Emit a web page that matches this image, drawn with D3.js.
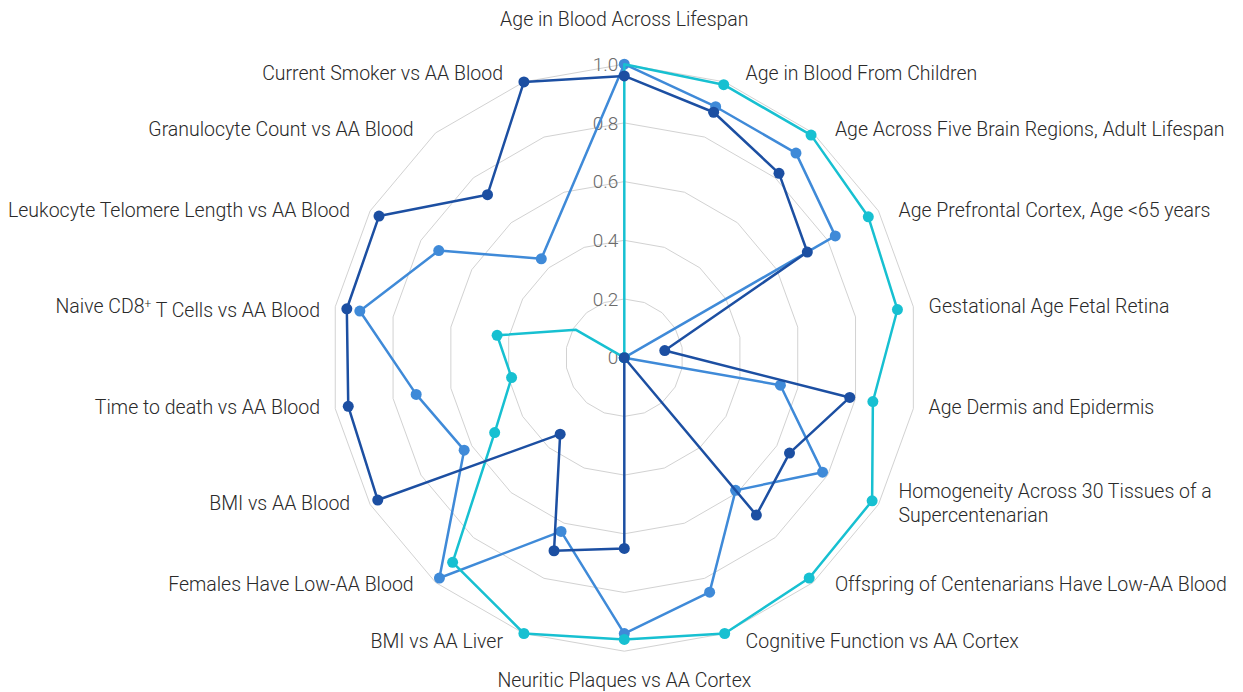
<!DOCTYPE html>
<html lang="en">
<head>
    <meta charset="UTF-8">
    <title>Radar chart</title>
    <style>
        body { margin: 0; background: #fff; }
        svg text { font-family: "Roboto Light", Roboto, "Noto Sans", sans-serif; font-weight: 300; }
    </style>
    <script src="https://cdn.jsdelivr.net/npm/d3@7"></script>
</head>
<body>
    <svg id="chart" width="1243" height="692"></svg>

    <script>
        // axis labels, clockwise from the top
        const categories = [
            "Age in Blood Across Lifespan",
            "Age in Blood From Children",
            "Age Across Five Brain Regions, Adult Lifespan",
            "Age Prefrontal Cortex, Age <65 years",
            "Gestational Age Fetal Retina",
            "Age Dermis and Epidermis",
            "Homogeneity Across 30 Tissues of a|Supercentenarian",
            "Offspring of Centenarians Have Low-AA Blood",
            "Cognitive Function vs AA Cortex",
            "Neuritic Plaques vs AA Cortex",
            "BMI vs AA Liver",
            "Females Have Low-AA Blood",
            "BMI vs AA Blood",
            "Time to death vs AA Blood",
            "Naive CD8^+ T Cells vs AA Blood",
            "Leukocyte Telomere Length vs AA Blood",
            "Granulocyte Count vs AA Blood",
            "Current Smoker vs AA Blood"
        ];

        // values (null = no point)
        const seriesDark   = [0.96, 0.89, 0.82, 0.72, 0.14, 0.78, 0.65, 0.70, 0, 0.65, 0.70, 0.34, 0.97, 0.955, 0.96, 0.965, 0.725, 1.0];
        const seriesMedium = [1.0, 0.91, 0.91, 0.83, 0, 0.54, 0.78, 0.59, 0.85, 0.94, 0.63, 0.98, 0.63, 0.72, 0.915, 0.73, 0.44, null];
        const seriesCyan   = [1.0, 0.99, 0.99, 0.96, 0.945, 0.86, 0.975, 0.98, 1.0, 0.96, 1.0, 0.91, 0.51, 0.39, 0.44, 0.19, 0, 0];
        const cyanNoMarker = [0, 15];

        const tickValues = [0, 0.2, 0.4, 0.6, 0.8, 1.0];
        const tickLabels = ["0", "0.2", "0.4", "0.6", "0.8", "1.0"];

        const series = [
            { name: "medium", values: seriesMedium, color: "#3f8ad8", noMarker: [] },
            { name: "cyan",   values: seriesCyan,   color: "#17c0d1", noMarker: cyanNoMarker },
            { name: "dark",   values: seriesDark,   color: "#1c4fa2", noMarker: [] }
        ];

        const svg = d3.select("#chart");
        const cx = 624.3, cy = 357.7, R = 293.5;
        const n = categories.length;
        const angle = i => i * 2 * Math.PI / n;
        const r = d3.scaleLinear().domain([0, 1]).range([0, R]);

        const g = svg.append("g").attr("transform", `translate(${cx},${cy})`);

        // grid polygons
        const gridLine = d3.lineRadial().curve(d3.curveLinearClosed);
        g.append("g").selectAll("path")
            .data(tickValues.filter(v => v > 0))
            .join("path")
            .attr("d", v => gridLine(d3.range(n).map(i => [angle(i), r(v)])))
            .attr("fill", "none")
            .attr("stroke", "#d2d2d2")
            .attr("stroke-width", 1);

        // radial tick labels
        g.append("g").selectAll("text")
            .data(tickValues)
            .join("text")
            .attr("x", -6)
            .attr("y", v => -r(v))
            .attr("dy", "0.35em")
            .attr("text-anchor", "end")
            .attr("fill", "#6b6b6b")
            .style("font-size", "19px")
            .text((v, i) => tickLabels[i]);

        // category labels
        const labelR = R + 15;
        const labels = g.append("g").selectAll("text")
            .data(categories)
            .join("text")
            .style("font-size", "19.5px")
            .attr("fill", "#2a2a2a");

        labels.each(function (d, i) {
            const a = angle(i);
            const s = Math.sin(a), c = Math.cos(a);
            const t = d3.select(this);
            let x = s * labelR, y = -c * labelR;
            let anchor = "middle";
            if (Math.abs(s) > 0.1) {
                anchor = s > 0 ? "start" : "end";
                x += Math.sign(s) * (20 * Math.abs(c) - 3);
                // pull the label a little toward the centre line
                y += Math.sign(c) * 9 * Math.abs(Math.sin(2 * a)) + 6;
            } else {
                y += c > 0 ? -23 : 21;
            }
            t.attr("text-anchor", anchor);
            const lines = d.split("|");
            const y0 = y - (lines.length - 1) * 12;
            lines.forEach((line, k) => {
                const ts = t.append("tspan").attr("x", x).attr("y", y0 + k * 24);
                if (line.includes("^+")) {
                    const [a1, a2] = line.split("^+");
                    ts.append("tspan").text(a1);
                    ts.append("tspan").attr("dy", "-0.45em").style("font-size", "12px").text("+");
                    ts.append("tspan").attr("dy", "0.45em").text(a2);
                } else {
                    ts.text(line);
                }
            });
        });

        // series
        const line = d3.lineRadial().curve(d3.curveLinearClosed);
        series.forEach(sr => {
            const pts = sr.values
                .map((v, i) => ({ v, i }))
                .filter(p => p.v !== null);
            const sg = g.append("g");
            sg.append("path")
                .attr("d", line(pts.map(p => [angle(p.i), r(p.v)])))
                .attr("fill", "none")
                .attr("stroke", sr.color)
                .attr("stroke-width", 2.5)
                .attr("stroke-linejoin", "round");
            sg.selectAll("circle")
                .data(pts.filter(p => !sr.noMarker.includes(p.i)))
                .join("circle")
                .attr("cx", p => Math.sin(angle(p.i)) * r(p.v))
                .attr("cy", p => -Math.cos(angle(p.i)) * r(p.v))
                .attr("r", 5.5)
                .attr("fill", sr.color);
        });
    </script>
</body>
</html>
